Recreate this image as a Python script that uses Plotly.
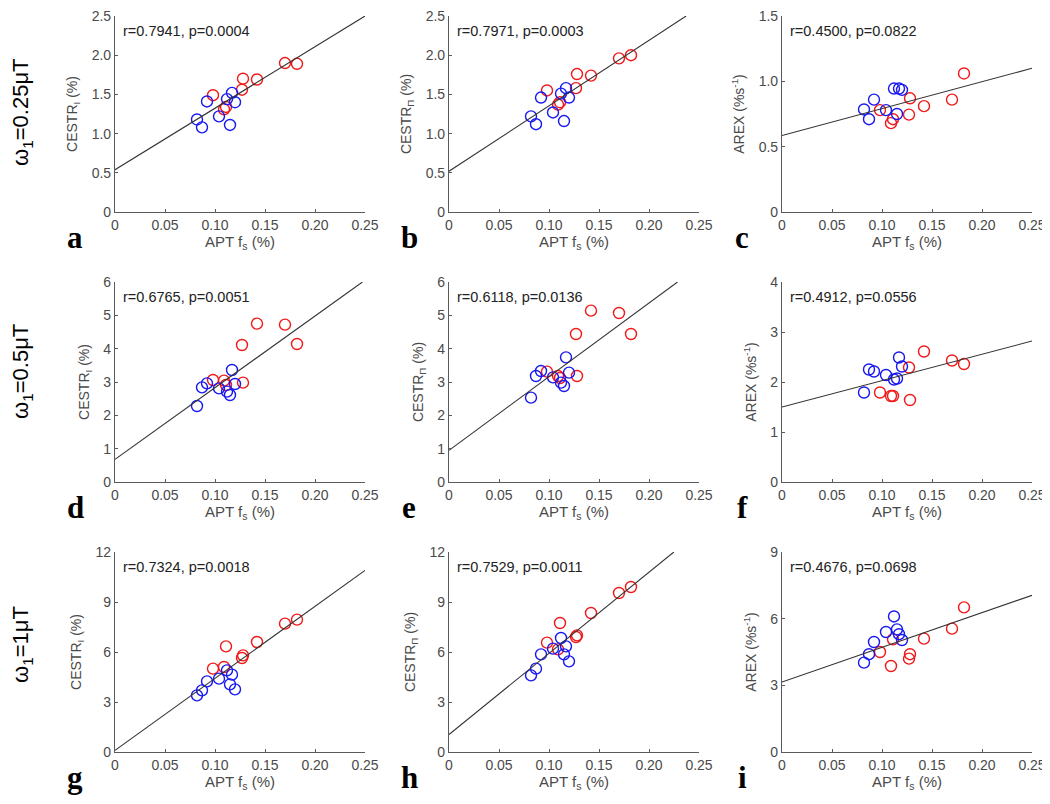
import plotly.graph_objects as go

# ---------------- data ----------------
apt_red = [0.098, 0.109, 0.111, 0.127, 0.128, 0.142, 0.170, 0.182]
apt_blue = [0.082, 0.087, 0.092, 0.104, 0.112, 0.115, 0.117, 0.120]

# row 1: w1 = 0.25 uT
a_red = [1.49, 1.31, 1.34, 1.56, 1.70, 1.69, 1.90, 1.89]
a_blue = [1.18, 1.08, 1.41, 1.22, 1.44, 1.11, 1.52, 1.40]
b_red = [1.55, 1.37, 1.40, 1.58, 1.76, 1.74, 1.96, 2.00]
b_blue = [1.22, 1.12, 1.46, 1.27, 1.51, 1.16, 1.58, 1.46]
c_red = [0.78, 0.68, 0.71, 0.745, 0.87, 0.81, 0.86, 1.06]
c_blue = [0.785, 0.71, 0.86, 0.78, 0.945, 0.75, 0.945, 0.935]
# row 2: w1 = 0.5 uT
d_red = [3.06, 3.04, 2.91, 4.11, 2.98, 4.75, 4.72, 4.14]
d_blue = [2.28, 2.84, 2.96, 2.81, 2.71, 2.61, 3.36, 2.94]
e_red = [3.31, 3.18, 3.12, 4.44, 3.18, 5.14, 5.07, 4.44]
e_blue = [2.53, 3.18, 3.33, 3.14, 2.98, 2.88, 3.74, 3.28]
f_red = [1.79, 1.72, 1.72, 2.29, 1.64, 2.61, 2.43, 2.36]
f_blue = [1.79, 2.25, 2.21, 2.14, 2.05, 2.07, 2.49, 2.31]
# row 3: w1 = 1 uT
g_red = [5.00, 5.10, 6.34, 5.64, 5.80, 6.60, 7.70, 7.94]
g_blue = [3.40, 3.70, 4.24, 4.40, 4.90, 4.06, 4.64, 3.76]
h_red = [6.56, 6.16, 7.74, 6.90, 7.00, 8.34, 9.54, 9.90]
h_blue = [4.60, 5.00, 5.86, 6.20, 6.84, 5.86, 6.34, 5.44]
i_red = [4.50, 3.87, 5.07, 4.20, 4.40, 5.10, 5.55, 6.51]
i_blue = [4.02, 4.40, 4.95, 5.40, 6.10, 5.52, 5.30, 5.04]

# regression lines (intercept, slope)
fit_intercept = [0.54, 0.52, 0.585, 0.68, 0.95, 1.50, 0.10, 1.05, 3.15]
fit_slope = [7.84, 8.35, 2.06, 21.5, 22.1, 5.28, 43.2, 48.7, 15.6]

stats_text = ["r=0.7941, p=0.0004", "r=0.7971, p=0.0003", "r=0.4500, p=0.0822",
              "r=0.6765, p=0.0051", "r=0.6118, p=0.0136", "r=0.4912, p=0.0556",
              "r=0.7324, p=0.0018", "r=0.7529, p=0.0011", "r=0.4676, p=0.0698"]
panel_letters = ["a", "b", "c", "d", "e", "f", "g", "h", "i"]
y_titles = ["CESTR<sub>I</sub> (%)", "CESTR<sub>Π</sub> (%)", "AREX (%s<sup>-1</sup>)"]
row_labels = ["ω<sub>1</sub>=0.25μT", "ω<sub>1</sub>=0.5μT", "ω<sub>1</sub>=1μT"]

x_ticks = [0, 0.05, 0.10, 0.15, 0.20, 0.25]
x_ticktext = ["0", "0.05", "0.10", "0.15", "0.20", "0.25"]
y_ticks_rows = [
    [[0, 0.5, 1.0, 1.5, 2.0, 2.5], [0, 0.5, 1.0, 1.5, 2.0, 2.5], [0, 0.5, 1.0, 1.5]],
    [[0, 1, 2, 3, 4, 5, 6], [0, 1, 2, 3, 4, 5, 6], [0, 1, 2, 3, 4]],
    [[0, 3, 6, 9, 12], [0, 3, 6, 9, 12], [0, 3, 6, 9]],
]

red_sets = [a_red, b_red, c_red, d_red, e_red, f_red, g_red, h_red, i_red]
blue_sets = [a_blue, b_blue, c_blue, d_blue, e_blue, f_blue, g_blue, h_blue, i_blue]

# ---------------- layout geometry ----------------
# the page body adds an 8 px margin, so the figure is 8 px smaller and all
# page-pixel positions are shifted by that offset
OFF = 8
W, H = 1050 - OFF, 804 - OFF
col_px = [(115, 365), (449, 699), (782, 1032)]
row_px = [(16, 212), (282, 482), (552, 752)]


def px_x(p):
    return (p - OFF) / W


def px_y(p):
    return 1 - (p - OFF) / H


TICK_COLOR = "#4a4a4a"
AXIS_COLOR = "#5a5a5a"
FONT = "Liberation Sans, Arial, sans-serif"

fig = go.Figure()
layout = dict(
    width=W, height=H,
    margin=dict(l=0, r=0, t=0, b=0),
    paper_bgcolor="white", plot_bgcolor="white",
    showlegend=False,
    font=dict(family=FONT, size=14, color=TICK_COLOR),
)
annotations = []


def fmt(v):
    return "0" if v == 0 else (f"{v:.1f}" if isinstance(v, float) else str(v))


for k in range(9):
    r, c = divmod(k, 3)
    idx = k + 1
    xa = f"x{idx}" if idx > 1 else "x"
    ya = f"y{idx}" if idx > 1 else "y"
    yticks = y_ticks_rows[r][c]
    ymax = yticks[-1]

    fig.add_trace(go.Scatter(
        x=apt_red, y=red_sets[k], mode="markers", xaxis=xa, yaxis=ya,
        marker=dict(symbol="circle-open", size=11, color="#f01818", line=dict(width=1.4)),
    ))
    fig.add_trace(go.Scatter(
        x=apt_blue, y=blue_sets[k], mode="markers", xaxis=xa, yaxis=ya,
        marker=dict(symbol="circle-open", size=11, color="#1818f0", line=dict(width=1.4)),
    ))
    b0, m = fit_intercept[k], fit_slope[k]
    x_end = min(0.25, (ymax - b0) / m)
    fig.add_trace(go.Scatter(
        x=[0, x_end], y=[b0, b0 + m * x_end], mode="lines", xaxis=xa, yaxis=ya,
        line=dict(color="#333333", width=1.1), hoverinfo="skip",
    ))

    x0p, x1p = col_px[c]
    y0p, y1p = row_px[r]
    axis_common = dict(
        showline=True, linecolor=AXIS_COLOR, linewidth=1.2,
        showgrid=False, zeroline=False, ticks="inside", ticklen=3,
        tickcolor=AXIS_COLOR, tickfont=dict(family=FONT, size=14, color=TICK_COLOR),
        mirror=False, automargin=False, ticklabeloverflow="allow",
    )
    layout["xaxis" + (str(idx) if idx > 1 else "")] = dict(
        domain=[px_x(x0p), px_x(x1p)], anchor=ya, range=[0, 0.25],
        tickvals=x_ticks, ticktext=x_ticktext,
        title=dict(text="APT f<sub>s</sub> (%)", font=dict(family=FONT, size=15, color=TICK_COLOR), standoff=3),
        **axis_common,
    )
    layout["yaxis" + (str(idx) if idx > 1 else "")] = dict(
        domain=[px_y(y1p), px_y(y0p)], anchor=xa, range=[0, ymax],
        tickvals=yticks, ticktext=[fmt(v) for v in yticks],
        title=dict(text=y_titles[c], font=dict(family=FONT, size=14, color=TICK_COLOR), standoff=10),
        **axis_common,
    )
    annotations.append(dict(
        text=stats_text[k], xref=f"{xa} domain", yref=f"{ya} domain",
        x=0.025, y=0.975, xanchor="left", yanchor="top", showarrow=False,
        font=dict(family=FONT, size=14.5, color="#222222"),
    ))
    annotations.append(dict(
        text=f"<b>{panel_letters[k]}</b>", xref="paper", yref="paper",
        x=px_x(x0p - 40), y=px_y(y1p + 25), xanchor="center", yanchor="middle",
        showarrow=False, font=dict(family="Liberation Serif, Times New Roman, serif", size=31, color="black"),
    ))

row_centers = [112, 372, 645]
for r in range(3):
    annotations.append(dict(
        text=row_labels[r], xref="paper", yref="paper",
        x=px_x(22), y=px_y(row_centers[r]), xanchor="center", yanchor="middle",
        textangle=-90, showarrow=False,
        font=dict(family=FONT, size=22, color="black"),
    ))

layout["annotations"] = annotations
fig.update_layout(**layout)
fig.write_html("out.html")
